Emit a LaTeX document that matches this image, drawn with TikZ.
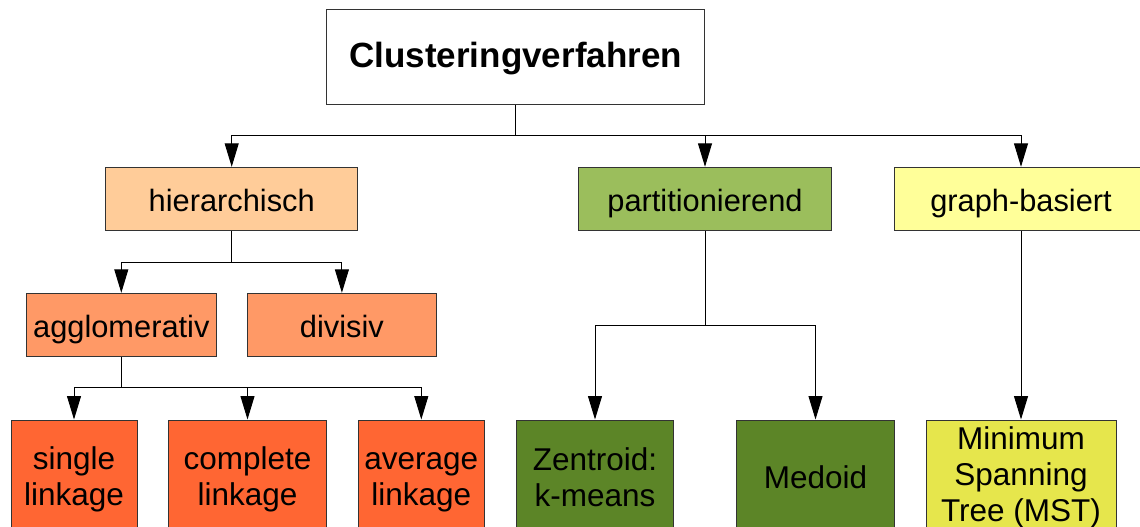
\documentclass[tikz,border=0pt]{standalone}
\usepackage{fontspec}
\setmainfont{Liberation Sans}
\usetikzlibrary{arrows.meta}

\definecolor{hierfill}{HTML}{FFCC99}
\definecolor{subfill}{HTML}{FF9966}
\definecolor{leaffill}{HTML}{FF6633}
\definecolor{partfill}{HTML}{9BBE5C}
\definecolor{partleaf}{HTML}{5C8527}
\definecolor{graphfill}{HTML}{FFFF99}
\definecolor{graphleaf}{HTML}{E6E64C}
\definecolor{edge}{HTML}{333333}

% line struts so that multi-line labels share the same vertical metrics
\newcommand\lnstrut{\rule[-5.5pt]{0pt}{29pt}}
\newcommand\twostrut{\rule[-6pt]{0pt}{34pt}}

\tikzset{
  box/.style={draw=edge, line width=1pt, inner sep=0pt, align=center},
  rootbox/.style={box, fill=white, minimum width=378.5pt, minimum height=95pt,
    font=\fontsize{35}{40}\selectfont\bfseries, text height=21.8pt, text depth=0pt},
  midbox/.style={box, minimum height=63.4pt,
    font=\fontsize{30.8}{36}\selectfont, text height=24pt, text depth=0pt},
  leafbox/.style={box, minimum height=114pt,
    font=\fontsize{31.5}{36}\selectfont},
  conn/.style={draw=black, line width=1pt},
  arr/.style={conn, -{Triangle[length=23.5pt, width=14pt]}},
}

\begin{document}
\begin{tikzpicture}[x=1pt, y=-1pt]
  \useasboundingbox (0,0) rectangle (1140,527);
  \clip (0,0) rectangle (1140,527);

  % root
  \node[rootbox] (root) at (515.7,56.8) {Clusteringverfahren};

  % first level
  \node[midbox, fill=hierfill, minimum width=252.5pt] (hier) at (231.7,199) {hierarchisch};
  \node[midbox, fill=partfill, minimum width=253.8pt] (part) at (705,199) {partitionierend};
  \node[midbox, fill=graphfill, minimum width=254pt] (graph) at (1021,199) {graph-basiert};

  % second level (hierarchical)
  \node[midbox, fill=subfill, minimum width=189.5pt] (agglo) at (121.3,325) {agglomerativ};
  \node[midbox, fill=subfill, minimum width=189.7pt] (divis) at (341.9,325) {divisiv};

  % leaves
  \node[leafbox, fill=leaffill, minimum width=126pt] (single) at (74,477) {\twostrut single\\linkage\twostrut};
  \node[leafbox, fill=leaffill, minimum width=158pt] (complete) at (247.5,477) {\twostrut complete\\linkage\twostrut};
  \node[leafbox, fill=leaffill, minimum width=126pt] (average) at (421.3,477) {\twostrut average\\linkage\twostrut};
  \node[leafbox, fill=partleaf, minimum width=157pt] (zentroid) at (595,477) {\twostrut Zentroid:\\k-means\twostrut};
  \node[leafbox, fill=partleaf, minimum width=158pt, text height=23pt, text depth=0pt] (medoid) at (815.5,477) {Medoid};
  \node[leafbox, fill=graphleaf, minimum width=190pt] (mst) at (1021,477) {\lnstrut Minimum\\Spanning\\Tree (MST)\lnstrut};

  % junction points
  \coordinate (jroot) at (515.7,135.7);
  \coordinate (jhier) at (231.7,262);
  \coordinate (jagglo) at (121.3,387.7);
  \coordinate (jpart) at (705,325);

  % connectors
  \draw[conn] (root.south) -- (jroot);
  \draw[arr] (jroot) -| (hier.north);
  \draw[arr] (jroot) -| (part.north);
  \draw[arr] (jroot) -| (graph.north);

  \draw[conn] (hier.south) -- (jhier);
  \draw[arr] (jhier) -| (agglo.north);
  \draw[arr] (jhier) -| (divis.north);

  \draw[conn] (agglo.south) -- (jagglo);
  \draw[arr] (jagglo) -| (single.north);
  \draw[arr] (jagglo) -| (complete.north);
  \draw[arr] (jagglo) -| (average.north);

  \draw[conn] (part.south) -- (jpart);
  \draw[arr] (jpart) -| (zentroid.north);
  \draw[arr] (jpart) -| (medoid.north);

  \draw[arr] (graph.south) -- (mst.north);
\end{tikzpicture}
\end{document}
